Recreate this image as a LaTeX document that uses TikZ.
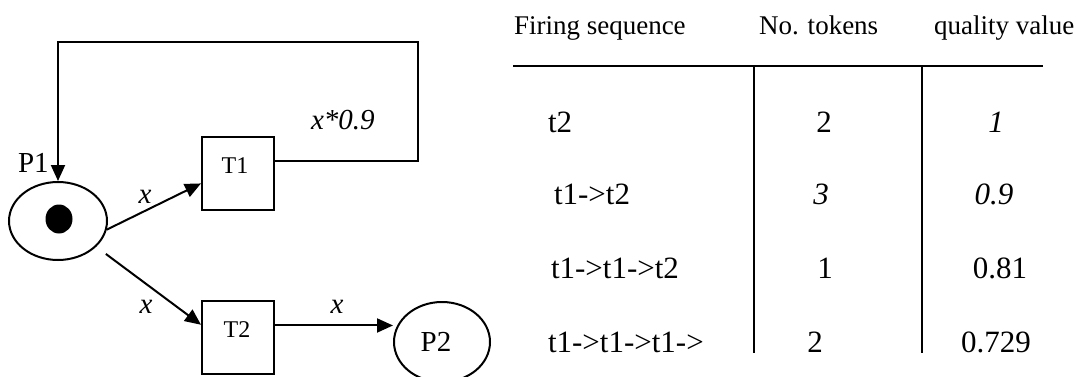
\documentclass[tikz,border=0pt]{standalone}
\usepackage{fontspec}
\setmainfont{Liberation Serif}
\usetikzlibrary{shapes.geometric,arrows.meta}
\begin{document}
\begin{tikzpicture}[x=1pt,y=-1pt,
  line width=2pt,
  place/.style={draw,ellipse,inner sep=0pt},
  token/.style={fill=black,ellipse,inner sep=0pt,minimum width=27pt,minimum height=29pt},
  trans/.style={draw,rectangle,minimum width=72pt,minimum height=73pt,inner sep=0pt},
  arr/.style={-{Triangle[length=16pt,width=14pt]}},
  lbl/.style={anchor=base,inner sep=0pt,font=\fontsize{29}{30}\selectfont},
  tlbl/.style={anchor=base,inner sep=0pt,font=\fontsize{24}{26}\selectfont},
  head/.style={anchor=base west,inner sep=0pt,font=\fontsize{27}{28}\selectfont},
  cellL/.style={anchor=base west,inner sep=0pt,font=\fontsize{31}{32}\selectfont},
  cell/.style={anchor=base,inner sep=0pt,font=\fontsize{31}{32}\selectfont},
  rule/.style={line width=2pt}]
\useasboundingbox (0,0) rectangle (1076,377);
\clip (0,0) rectangle (1076,377);

% ---- Petri net ----
\node[place,minimum width=98pt,minimum height=78pt] (P1) at (58,221) {};
\node[token] (tok) at (59,219) {};
\node[trans] (T1) at (238,173.5) {};
\node[trans] (T2) at (238,337.5) {};
\node[place,minimum width=96pt,minimum height=80pt] (P2) at (442,342) {};

\node[lbl,anchor=base west] (P1txt) at (17,172) {P1};
\node[tlbl] (T1txt) at (235,173) {T1};
\node[tlbl] (T2txt) at (237,337) {T2};
\node[lbl] (P2txt) at (436,351) {P2};

% arcs
\draw[arr] (P1.-10) -- (T1.195);
\draw[arr,shorten <=12pt] (P1.-34) -- (T2.161);
\draw[arr] (T2.18) -- (T2.18 -| P2.west);
\coordinate (loopTR) at (418,42);
\draw[arr] (T1.19) -| (loopTR) -| (P1.north);

% arc weights
\node[lbl,anchor=base west] (w0) at (310,130) {\itshape x*0.9};
\node[lbl] (w1) at (145,203) {\itshape x};
\node[lbl] (w2) at (146,313) {\itshape x};
\node[lbl] (w3) at (337,313) {\itshape x};

% ---- firing table ----
\node[head] (h1) at (513,35) {Firing sequence};
\node[head] (h2) at (758,35) {No. tokens};
\node[head] (h3) at (933,35) {quality value};

\draw[rule] (513,66) -- (1043,66);
\draw[rule] (754,66) -- (754,353);
\draw[rule] (922,66) -- (922,353);

\node[cellL] (r1a) at (547,132) {t2};
\node[cell]  (r1b) at (824,132) {2};
\node[cell]  (r1c) at (996,132) {\itshape 1};

\node[cellL] (r2a) at (553,204) {t1->t2};
\node[cell]  (r2b) at (821,204) {\itshape 3};
\node[cell]  (r2c) at (994,204) {\itshape 0.9};

\node[cellL] (r3a) at (550,278) {t1->t1->t2};
\node[cell]  (r3b) at (825,278) {1};
\node[cell]  (r3c) at (1000,278) {0.81};

\node[cellL] (r4a) at (547,352) {t1->t1->t1->};
\node[cell]  (r4b) at (815,352) {2};
\node[cell]  (r4c) at (996,352) {0.729};
\end{tikzpicture}
\end{document}
